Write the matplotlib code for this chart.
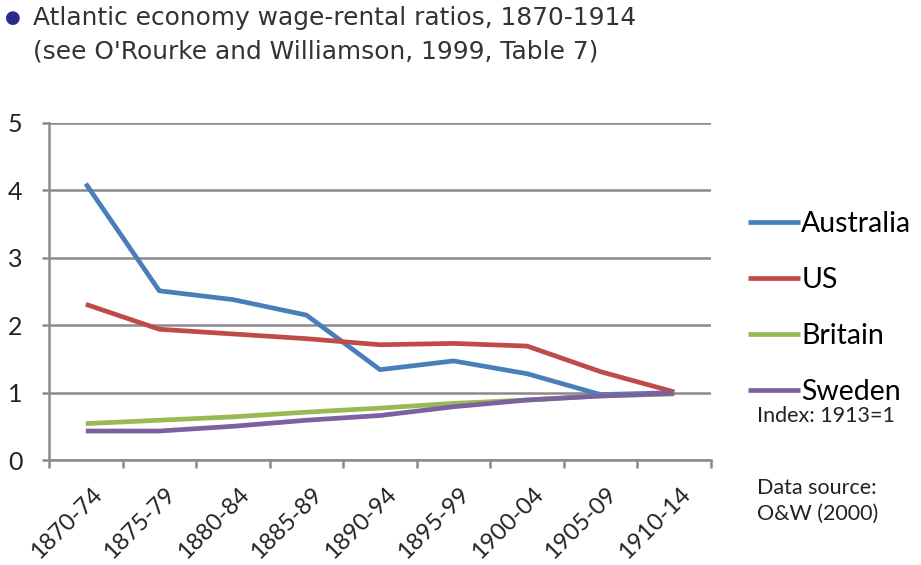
import numpy as np
import matplotlib.pyplot as plt
import matplotlib.transforms as mtransforms
from matplotlib.ticker import FixedLocator

periods = ["1870-74", "1875-79", "1880-84", "1885-89", "1890-94",
           "1895-99", "1900-04", "1905-09", "1910-14"]
australia = [4.10, 2.51, 2.38, 2.15, 1.34, 1.47, 1.28, 0.97, 1.00]
us = [2.31, 1.94, 1.87, 1.80, 1.71, 1.73, 1.69, 1.31, 1.01]
britain = [0.54, 0.59, 0.64, 0.71, 0.77, 0.84, 0.89, 0.95, 0.98]
sweden = [0.43, 0.43, 0.50, 0.59, 0.66, 0.79, 0.89, 0.95, 0.99]

series = [("Australia", australia, "#4a7ebb"),
          ("US", us, "#be4b48"),
          ("Britain", britain, "#98b954"),
          ("Sweden", sweden, "#7d60a0")]

fig = plt.figure(figsize=(9.21, 5.65), dpi=100)
ax = fig.add_axes([49 / 921, 1 - 460 / 565, 662 / 921, 337 / 565])

x = np.arange(len(periods))
for name, vals, col in series:
    ax.plot(x, vals, color=col, linewidth=3.4, label=name, solid_capstyle='butt')

grid_col = "#8a8a8a"
ax.set_xlim(-0.5, len(periods) - 0.5)
ax.set_ylim(0, 5)
ax.set_yticks(range(6))
ax.yaxis.grid(True, color=grid_col, linewidth=1.8)
ax.set_axisbelow(True)
for s in ["top", "right"]:
    ax.spines[s].set_visible(False)
for s in ["left", "bottom"]:
    ax.spines[s].set_color(grid_col)
    ax.spines[s].set_linewidth(1.8)

chart_font = "Lato"
txt_col = "#222222"
ax.set_xticks(x)
ax.set_xticklabels(periods, rotation=45, ha='right', va='top',
                   rotation_mode='anchor', fontsize=17, family=chart_font,
                   color=txt_col)
ax.tick_params(axis='x', which='major', length=0, pad=17)
shift = mtransforms.ScaledTranslation(5 / 100, 0, fig.dpi_scale_trans)
for lab in ax.get_xticklabels():
    lab.set_transform(lab.get_transform() + shift)
ax.xaxis.set_minor_locator(FixedLocator(np.arange(-0.5, len(periods), 1.0)))
ax.tick_params(axis='x', which='minor', length=6, width=1.8, color=grid_col)
ax.tick_params(axis='y', length=5, width=1.8, color=grid_col, labelsize=18,
               pad=14, labelcolor=txt_col)
for lab in ax.get_yticklabels():
    lab.set_family(chart_font)

fs_leg = 20.5
ax.legend(loc='upper left', bbox_to_anchor=(748 / 921, 1 - 211 / 565),
          bbox_transform=fig.transFigure, frameon=False,
          prop={'family': chart_font, 'size': fs_leg},
          handlelength=1.82, handletextpad=0.05, labelspacing=1.05,
          borderpad=0, borderaxespad=0)

fig.text(757 / 921, 1 - 416 / 565, "Index: 1913=1", fontsize=15.5,
         family=chart_font, va='center', color=txt_col)
fig.text(757 / 921, 1 - 501 / 565, "Data source:\nO&W (2000)", fontsize=15.5,
         family=chart_font, va='center', color=txt_col, linespacing=1.35)

# title block with bullet
fig.text(33 / 921, 1 - 18 / 565, "Atlantic economy wage-rental ratios, 1870-1914",
         fontsize=17.9, va='center', color="#333333")
fig.text(33 / 921, 1 - 52 / 565, "(see O'Rourke and Williamson, 1999, Table 7)",
         fontsize=17.9, va='center', color="#333333")
fig.text(13 / 921, 1 - 18 / 565, "\u25cf", fontsize=13, va='center', ha='center',
         color="#2a2a8a")

fig.savefig("out.png", dpi=100)
